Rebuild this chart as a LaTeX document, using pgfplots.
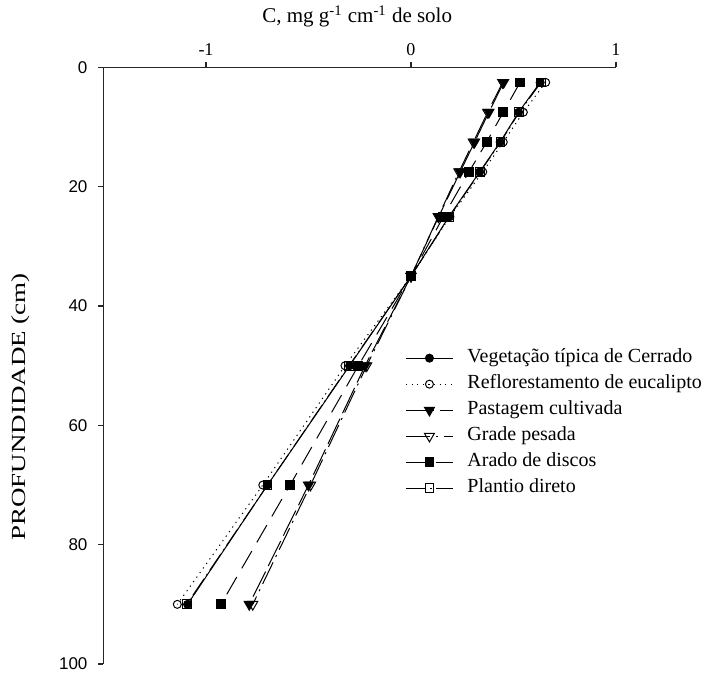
\documentclass[border=0pt]{standalone}
\usepackage{pgfplots}
\pgfplotsset{compat=1.18}
\usepackage{fontspec}
\setmainfont{Liberation Serif}
\setsansfont{Liberation Sans}
\begin{document}
\begin{tikzpicture}
\path[use as bounding box] (-51.75pt,-4.5pt) rectangle (304.75pt,332pt);
\begin{axis}[
  at={(0,0)}, anchor=south west,
  scale only axis, width=256.25pt, height=298.25pt,
  xmin=-1.5, xmax=1, ymin=0, ymax=100, y dir=reverse,
  axis x line*=top, axis y line*=left,
  axis line style={black!85, line width=0.6pt},
  xtick={-1,0,1}, ytick={0,20,40,60,80,100},
  tick align=outside, major tick length=2.5pt,
  tick style={black!85, line width=0.6pt},
  /pgf/number format/assume math mode=true,
  xticklabel style={font=\fontsize{9}{10}\selectfont},
  yticklabel style={font=\fontsize{8.5}{10}\sffamily, xshift=-2pt},
  xlabel={C, mg g\textsuperscript{-1} cm\textsuperscript{-1} de solo},
  xlabel style={at={(axis description cs:0.495,1)}, anchor=base, yshift=22.25pt, font=\fontsize{10.5}{12}\selectfont},
  ylabel={\scalebox{1.35}[1]{PROFUNDIDADE (cm)}},
  ylabel style={at={(axis description cs:-0.161,0.431)}, anchor=center, rotate=0, font=\fontsize{10}{12}\selectfont},
  legend cell align=left,
  legend style={at={(axis cs:-0.029,46.9)}, anchor=north west, draw=none, fill=none,
    inner sep=0pt, row sep=2.5pt, font=\fontsize{10}{12}\selectfont,
    nodes={inner sep=0.5pt, text height=7pt, text depth=2.5pt},
    /tikz/every odd column/.append style={column sep=6.5pt}},
  legend image code/.code={\draw[mark repeat=2,mark phase=2] plot coordinates {(0pt,0pt)(11.75pt,0pt)(23.5pt,0pt)};},
  every axis plot/.append style={line width=0.5pt, black},
]
% Vegetacao tipica de Cerrado
\addplot[solid, mark=*, mark size=2pt, mark options={solid, fill=black}] coordinates {
(0.63,2.5)(0.525,7.5)(0.435,12.5)(0.335,17.5)(0.185,25)(0,35)(-0.30,50)(-0.70,70)(-1.09,90)};
\addlegendentry{Vegetação típica de Cerrado}
% Reflorestamento de eucalipto
\addplot[dash pattern=on 0.6pt off 2.2pt, mark=o, mark size=2pt, mark options={solid, fill=white}] coordinates {
(0.657,2.5)(0.548,7.5)(0.45,12.5)(0.35,17.5)(0.19,25)(0,35)(-0.322,50)(-0.723,70)(-1.14,90)};
\addlegendentry{Reflorestamento de eucalipto}
% Pastagem cultivada
\addplot[dash pattern=on 14pt off 3pt, mark=triangle*, mark size=2.9pt, mark options={solid, rotate=180, fill=black}] coordinates {
(0.452,2.5)(0.38,7.5)(0.31,12.5)(0.24,17.5)(0.135,25)(0,35)(-0.224,50)(-0.50,70)(-0.789,90)};
\addlegendentry{Pastagem cultivada}
% Grade pesada
\addplot[dash pattern=on 12pt off 3pt on 1pt off 3pt, mark=triangle, mark size=2.9pt, mark options={solid, rotate=180, fill=white}] coordinates {
(0.447,2.5)(0.374,7.5)(0.304,12.5)(0.234,17.5)(0.133,25)(0,35)(-0.216,50)(-0.49,70)(-0.772,90)};
\addlegendentry{Grade pesada}
% Arado de discos
\addplot[dash pattern=on 10pt off 5pt, mark=square*, mark size=2.2pt, mark options={solid, fill=black}] coordinates {
(0.532,2.5)(0.45,7.5)(0.369,12.5)(0.283,17.5)(0.158,25)(0,35)(-0.257,50)(-0.59,70)(-0.927,90)};
\addlegendentry{Arado de discos}
% Plantio direto
\addplot[dash pattern=on 10pt off 2pt on 1pt off 2pt, mark=square, mark size=2.2pt, mark options={solid, fill=white}] coordinates {
(0.634,2.5)(0.528,7.5)(0.437,12.5)(0.337,17.5)(0.187,25)(0,35)(-0.302,50)(-0.70,70)(-1.094,90)};
\addlegendentry{Plantio direto}
\end{axis}
\end{tikzpicture}
\end{document}
